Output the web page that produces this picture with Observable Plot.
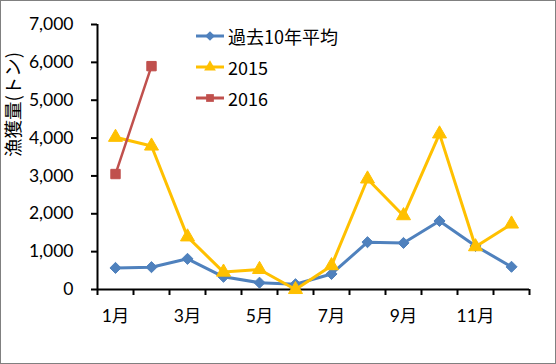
<!DOCTYPE html>
<html>
<head>
<meta charset="utf-8">
<script src="https://cdn.jsdelivr.net/npm/d3@7"></script>
<script src="https://cdn.jsdelivr.net/npm/@observablehq/plot@0.6"></script>
<style>
  body { margin: 0; background: #fff; }
  #wrap { position: relative; width: 556px; height: 364px; overflow: hidden; }
  #border { position: absolute; left: 0; top: 0; width: 556px; height: 364px; box-sizing: border-box; border: 1px solid #808080; pointer-events: none; }
  #legend { position: absolute; left: 196px; top: 20px; font-family: "Noto Sans CJK JP", Lato, sans-serif; font-size: 18px; color: #000; }
  #legend .row { display: flex; align-items: center; height: 31px; }
  #legend svg { margin-right: 4px; }
  #chart svg text { fill: #000; }
</style>
</head>
<body>
<div id="wrap">
  <div id="chart"></div>
  <div id="legend"></div>
  <div id="border"></div>
</div>
<script>
const months = [1, 2, 3, 4, 5, 6, 7, 8, 9, 10, 11, 12];
const avg10 = [570, 590, 810, 335, 180, 140, 410, 1250, 1230, 1810, 1150, 600];
const y2015 = [4020, 3790, 1390, 460, 530, 0, 630, 2920, 1950, 4110, 1130, 1730];
const y2016 = [3050, 5900];
const seriesNames = ["過去10年平均", "2015", "2016"];
const seriesColors = ["#4F81BD", "#FFC000", "#C0504D"];
const seriesSymbols = ["diamond2", "triangle", "square"];
const xLabelTicks = [1, 3, 5, 7, 9, 11];
const xBoundaryTicks = [0.5, 1.5, 2.5, 3.5, 4.5, 5.5, 6.5, 7.5, 8.5, 9.5, 10.5, 11.5, 12.5];
const yTicks = [0, 1000, 2000, 3000, 4000, 5000, 6000, 7000];
const yLabel = "漁獲量(トン)";

const valuesList = [avg10, y2015, y2016];
const data = [];
valuesList.forEach((vals, si) => {
  vals.forEach((v, i) => data.push({ series: seriesNames[si], month: months[i], value: v }));
});

const seriesMarks = [];
seriesNames.forEach((name, si) => {
  const d = data.filter(r => r.series === name);
  seriesMarks.push(Plot.line(d, { x: "month", y: "value", stroke: seriesColors[si], strokeWidth: si === 2 ? 2.5 : 3 }));
  seriesMarks.push(Plot.dot(d, {
    x: "month", y: "value", symbol: () => seriesSymbols[si],
    fill: seriesColors[si], stroke: seriesColors[si], strokeWidth: 1,
    r: si === 0 ? 5 : si === 1 ? 5.2 : 5.3
  }));
});

const tickFont = "Lato, 'Noto Sans CJK JP', sans-serif";
const chart = Plot.plot({
  width: 556,
  height: 364,
  marginLeft: 97,
  marginRight: 27,
  marginTop: 24,
  marginBottom: 75,
  style: { fontFamily: tickFont, fontSize: "17px", color: "#000", background: "#fff" },
  x: { type: "linear", domain: [0.5, 12.5] },
  y: { domain: [0, 7000] },
  symbol: { type: "identity" },
  marks: [
    Plot.axisY({ ticks: yTicks, tickFormat: d3.format(","), tickSize: 6, tickPadding: 18, strokeWidth: 2, fontSize: 17.5, label: null }),
    Plot.axisX({ ticks: xBoundaryTicks, tickFormat: () => "", tickSize: 6, strokeWidth: 2, label: null }),
    Plot.axisX({ ticks: xLabelTicks, tickFormat: d => d + "月", tickSize: 0, tickPadding: 20, fontSize: 17.5, label: null }),
    Plot.text([yLabel], { frameAnchor: "left", dx: -83, rotate: -90, fontSize: 18.5, fontFamily: "'Noto Sans CJK JP', sans-serif", fill: "#000" }),
    Plot.ruleX([0.5], { stroke: "#000", strokeWidth: 2 }),
    Plot.ruleY([0], { stroke: "#000", strokeWidth: 2 }),
    ...seriesMarks
  ]
});
document.getElementById("chart").appendChild(chart);

// legend
const legend = document.getElementById("legend");
const symGen = { diamond2: d3.symbolDiamond2, triangle: d3.symbolTriangle, square: d3.symbolSquare };
seriesNames.forEach((name, si) => {
  const row = document.createElement("div");
  row.className = "row";
  const svg = d3.create("svg").attr("width", 28).attr("height", 14);
  svg.append("line").attr("x1", 0).attr("x2", 28).attr("y1", 7).attr("y2", 7)
    .attr("stroke", seriesColors[si]).attr("stroke-width", 3);
  svg.append("path").attr("transform", "translate(14,7)")
    .attr("d", d3.symbol(symGen[seriesSymbols[si]], 60)())
    .attr("fill", seriesColors[si]);
  row.appendChild(svg.node());
  const t = document.createElement("span");
  t.textContent = name;
  row.appendChild(t);
  legend.appendChild(row);
});
</script>
</body>
</html>
